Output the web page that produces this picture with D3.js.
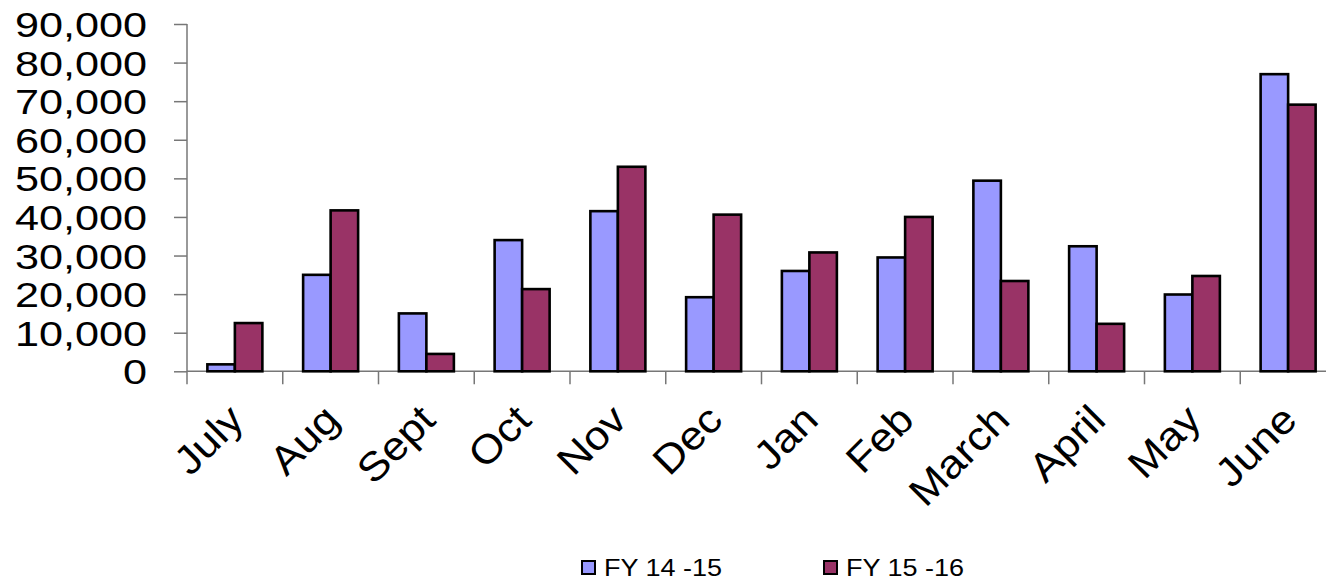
<!DOCTYPE html>
<html>
<head>
<meta charset="utf-8">
<script src="https://cdn.jsdelivr.net/npm/d3@7"></script>
<style>
  html, body { margin: 0; padding: 0; background: #fff; }
  svg { display: block; font-family: "Liberation Sans", Arial, sans-serif; }
</style>
</head>
<body>
<svg id="chart" width="1326" height="584"></svg>
<script>
const months = ["July","Aug","Sept","Oct","Nov","Dec","Jan","Feb","March","April","May","June"];
const seriesNames = ["FY 14 -15", "FY 15 -16"];
const fy1415 = [1800, 25000, 15000, 34000, 41500, 19200, 26000, 29500, 49400, 32400, 19900, 77000];
const fy1516 = [12500, 41700, 4500, 21300, 53000, 40600, 30800, 40000, 23400, 12300, 24700, 69100];
const yTicks = [0, 10000, 20000, 30000, 40000, 50000, 60000, 70000, 80000, 90000];
const colors = ["#9999FF", "#993366"];

const svg = d3.select("#chart");
const x0 = 187, x1 = 1336, yTop = 24, yBase = 371.3;

const x = d3.scaleBand().domain(months).range([x0, x1]).paddingInner(0).paddingOuter(0);
const y = d3.scaleLinear().domain([0, 90000]).range([yBase, yTop]);
const barW = 27.5;
const sub = d3.scaleBand().domain(seriesNames).range([0, barW * 2]);
const groupOff = (x.bandwidth() - barW * 2) / 2;

const fmt = d3.format(",");

// Y axis
const yAxis = svg.append("g").attr("transform", `translate(${x0},0)`)
  .call(d3.axisLeft(y).tickValues(yTicks).tickSize(13).tickFormat(fmt).tickSizeOuter(0));
yAxis.select(".domain").remove();
yAxis.selectAll(".tick line").attr("stroke", "#777").attr("stroke-width", 1.5);
yAxis.selectAll(".tick text")
  .attr("x", 0).attr("dy", "0.35em")
  .attr("transform", "translate(-40,0) scale(1.2,1)")
  .attr("font-size", 36).attr("fill", "#000")
  .attr("font-family", "Liberation Sans, Arial, sans-serif");
svg.append("line").attr("x1", x0).attr("x2", x0).attr("y1", yTop).attr("y2", yBase + 13)
  .attr("stroke", "#777").attr("stroke-width", 1.5);

// X axis line and ticks
svg.append("line").attr("x1", x0).attr("x2", 1326).attr("y1", yBase).attr("y2", yBase)
  .attr("stroke", "#777").attr("stroke-width", 1.5);
svg.append("g").selectAll("line").data(months.slice(1)).join("line")
  .attr("x1", d => x(d)).attr("x2", d => x(d))
  .attr("y1", yBase).attr("y2", yBase + 13)
  .attr("stroke", "#777").attr("stroke-width", 1.5);

// Bars
const series = [fy1415, fy1516];
series.forEach((vals, si) => {
  svg.append("g").selectAll("rect").data(months).join("rect")
    .attr("x", (m) => x(m) + groupOff + sub(seriesNames[si]))
    .attr("y", (m, i) => y(vals[i]))
    .attr("width", sub.bandwidth())
    .attr("height", (m, i) => yBase - y(vals[i]))
    .attr("fill", colors[si])
    .attr("stroke", "#000")
    .attr("stroke-width", 2.6);
});

// X labels
svg.append("g").selectAll("text").data(months).join("text")
  .attr("transform", d => `translate(${x(d) + x.bandwidth() / 2 + 11},422) rotate(-45) scale(1.1,1)`)
  .attr("text-anchor", "end")
  .attr("font-size", 40)
  .attr("fill", "#000")
  .text(d => d);

// Legend
const legendX = [582, 824];
seriesNames.forEach((name, i) => {
  const g = svg.append("g").attr("transform", `translate(${legendX[i]},561)`);
  g.append("rect").attr("x", 0).attr("y", 0).attr("width", 13).attr("height", 13)
    .attr("fill", colors[i]).attr("stroke", "#000").attr("stroke-width", 2);
  g.append("text").attr("transform", "translate(22,14.7) scale(1.16,1)")
    .attr("font-size", 23.3).attr("fill", "#000").text(name);
});
</script>
</body>
</html>
